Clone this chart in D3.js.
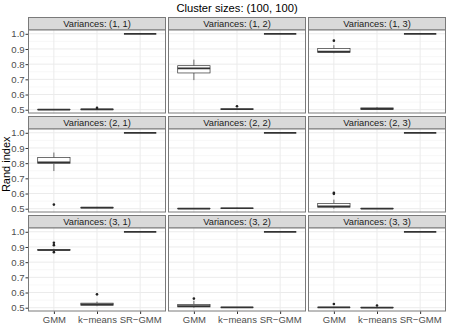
<!DOCTYPE html>
<html>
<head>
<meta charset="utf-8">
<script src="https://cdn.jsdelivr.net/npm/d3@7"></script>
<style>
  body { margin: 0; background: #fff; }
  svg text { font-family: "Liberation Sans", Arial, sans-serif; }
</style>
</head>
<body>
<svg id="chart" width="449" height="336"></svg>
<script>
var WIDTH = 449;
var HEIGHT = 336;

var methods = ['GMM', 'k\u2212means', 'SR\u2212GMM'];
var panelLabels = [
    'Variances: (1, 1)', 'Variances: (1, 2)', 'Variances: (1, 3)',
    'Variances: (2, 1)', 'Variances: (2, 2)', 'Variances: (2, 3)',
    'Variances: (3, 1)', 'Variances: (3, 2)', 'Variances: (3, 3)'
];
var yTicks = [0.5, 0.6, 0.7, 0.8, 0.9, 1.0];

// box stats per panel, one value per method (GMM, k-means, SR-GMM)
var lowerWhisker = [
    [0.499, 0.499, 1], [0.695, 0.500, 1], [0.872, 0.500, 1],
    [0.748, 0.503, 1], [0.499, 0.500, 1], [0.500, 0.499, 1],
    [0.872, 0.510, 1], [0.500, 0.500, 1], [0.500, 0.499, 1]
];
var q1 = [
    [0.500, 0.500, 1], [0.742, 0.501, 1], [0.878, 0.502, 1],
    [0.797, 0.505, 1], [0.500, 0.501, 1], [0.510, 0.500, 1],
    [0.877, 0.516, 1], [0.505, 0.501, 1], [0.501, 0.500, 1]
];
var medians = [
    [0.500, 0.502, 1], [0.772, 0.503, 1], [0.882, 0.505, 1],
    [0.806, 0.507, 1], [0.501, 0.503, 1], [0.516, 0.501, 1],
    [0.880, 0.522, 1], [0.510, 0.502, 1], [0.502, 0.501, 1]
];
var q3 = [
    [0.501, 0.504, 1], [0.790, 0.506, 1], [0.903, 0.512, 1],
    [0.837, 0.509, 1], [0.502, 0.504, 1], [0.535, 0.502, 1],
    [0.883, 0.530, 1], [0.522, 0.503, 1], [0.503, 0.502, 1]
];
var upperWhisker = [
    [0.502, 0.506, 1], [0.830, 0.510, 1], [0.925, 0.518, 1],
    [0.870, 0.512, 1], [0.503, 0.506, 1], [0.560, 0.503, 1],
    [0.888, 0.540, 1], [0.545, 0.504, 1], [0.505, 0.503, 1]
];
var outliers = [
    [[], [0.512], []], [[], [0.523], []], [[0.955], [], []],
    [[0.527], [], []], [[], [], []], [[0.598, 0.605], [], []],
    [[0.928, 0.912, 0.866], [0.588], []], [[0.560], [], []], [[0.524], [0.515], []]
];

var LEFT = 28, TOP = 17;
var PANEL_W = 138, PANEL_H = 83.5, STRIP_H = 13, GAP_X = 2, GAP_Y = 2.5;

var svg = d3.select('#chart');

var xScale = d3.scalePoint().domain(methods).range([0, PANEL_W]).padding(0.6);
var yScale = d3.scaleLinear().domain([0.475, 1.025]).range([PANEL_H, 0]);
var boxW = xScale.step() * 0.75;
var minorTicks = [0.55, 0.65, 0.75, 0.85, 0.95];

svg.append('text')
    .attr('x', LEFT + (3 * PANEL_W + 2 * GAP_X) / 2)
    .attr('y', 12)
    .attr('text-anchor', 'middle')
    .style('font-size', '11.2px')
    .attr('fill', '#000')
    .text('Cluster sizes: (100, 100)');

var plotTop = TOP, plotBottom = TOP + 3 * (STRIP_H + PANEL_H) + 2 * GAP_Y;
svg.append('text')
    .attr('transform', 'translate(10,' + ((plotTop + plotBottom) / 2) + ') rotate(-90)')
    .attr('text-anchor', 'middle')
    .style('font-size', '11px')
    .attr('fill', '#000')
    .text('Rand index');

panelLabels.forEach(function(label, i){
    var row = Math.floor(i / 3), col = i % 3;
    var px = LEFT + col * (PANEL_W + GAP_X);
    var sy = TOP + row * (STRIP_H + PANEL_H + GAP_Y);
    var py = sy + STRIP_H;

    // strip
    svg.append('rect')
        .attr('x', px + 0.5).attr('y', sy + 0.5)
        .attr('width', PANEL_W - 1).attr('height', STRIP_H - 0.5)
        .attr('fill', '#D9D9D9').attr('stroke', '#7a7a7a').attr('stroke-width', 1);
    svg.append('text')
        .attr('x', px + PANEL_W / 2).attr('y', sy + STRIP_H / 2 + 0.5)
        .attr('text-anchor', 'middle').attr('dominant-baseline', 'central')
        .style('font-size', '9.3px').attr('fill', '#1A1A1A')
        .text(label);

    var g = svg.append('g').attr('transform', 'translate(' + px + ',' + py + ')');

    g.append('rect').attr('width', PANEL_W).attr('height', PANEL_H).attr('fill', '#fff');

    g.selectAll('.minor').data(minorTicks).enter().append('line')
        .attr('x1', 0).attr('x2', PANEL_W)
        .attr('y1', function(d){ return yScale(d); }).attr('y2', function(d){ return yScale(d); })
        .attr('stroke', '#F2F2F2').attr('stroke-width', 0.6);
    g.selectAll('.majorY').data(yTicks).enter().append('line')
        .attr('x1', 0).attr('x2', PANEL_W)
        .attr('y1', function(d){ return yScale(d); }).attr('y2', function(d){ return yScale(d); })
        .attr('stroke', '#EBEBEB').attr('stroke-width', 1);
    g.selectAll('.majorX').data(methods).enter().append('line')
        .attr('y1', 0).attr('y2', PANEL_H)
        .attr('x1', function(d){ return xScale(d); }).attr('x2', function(d){ return xScale(d); })
        .attr('stroke', '#EBEBEB').attr('stroke-width', 1);

    methods.forEach(function(m, j){
        var cx = xScale(m);
        var bg = g.append('g');
        bg.append('line')
            .attr('x1', cx).attr('x2', cx)
            .attr('y1', yScale(upperWhisker[i][j])).attr('y2', yScale(q3[i][j]))
            .attr('stroke', '#333').attr('stroke-width', 0.7);
        bg.append('line')
            .attr('x1', cx).attr('x2', cx)
            .attr('y1', yScale(q1[i][j])).attr('y2', yScale(lowerWhisker[i][j]))
            .attr('stroke', '#333').attr('stroke-width', 0.7);
        bg.append('rect')
            .attr('x', cx - boxW / 2).attr('width', boxW)
            .attr('y', yScale(q3[i][j]))
            .attr('height', Math.max(0, yScale(q1[i][j]) - yScale(q3[i][j])))
            .attr('fill', '#fff').attr('stroke', '#333').attr('stroke-width', 0.7);
        bg.append('line')
            .attr('x1', cx - boxW / 2).attr('x2', cx + boxW / 2)
            .attr('y1', yScale(medians[i][j])).attr('y2', yScale(medians[i][j]))
            .attr('stroke', '#333').attr('stroke-width', 1.7);
        bg.selectAll('circle').data(outliers[i][j]).enter().append('circle')
            .attr('cx', cx).attr('cy', function(d){ return yScale(d); })
            .attr('r', 1.3).attr('fill', '#222');
    });

    g.append('rect').attr('x', 0.5).attr('y', 0)
        .attr('width', PANEL_W - 1).attr('height', PANEL_H - 0.5)
        .attr('fill', 'none').attr('stroke', '#7a7a7a').attr('stroke-width', 1);

    if (col === 0) {
        var yAxis = g.append('g').call(d3.axisLeft(yScale).tickValues(yTicks).tickSize(2.5).tickPadding(0.8).tickFormat(d3.format('.1f')));
        yAxis.select('.domain').remove();
        yAxis.selectAll('line').attr('stroke', '#333');
        yAxis.selectAll('text').attr('fill', '#4D4D4D').style('font-size', '9.6px')
            .style('font-family', '"Liberation Sans", Arial, sans-serif');
    }
    if (row === 2) {
        var xAxis = g.append('g').attr('transform', 'translate(0,' + PANEL_H + ')')
            .call(d3.axisBottom(xScale).tickSize(2.5).tickPadding(2));
        xAxis.select('.domain').remove();
        xAxis.selectAll('line').attr('stroke', '#333');
        xAxis.selectAll('text').attr('fill', '#4D4D4D').style('font-size', '9.5px')
            .style('font-family', '"Liberation Sans", Arial, sans-serif');
    }
});
</script>
</body>
</html>
